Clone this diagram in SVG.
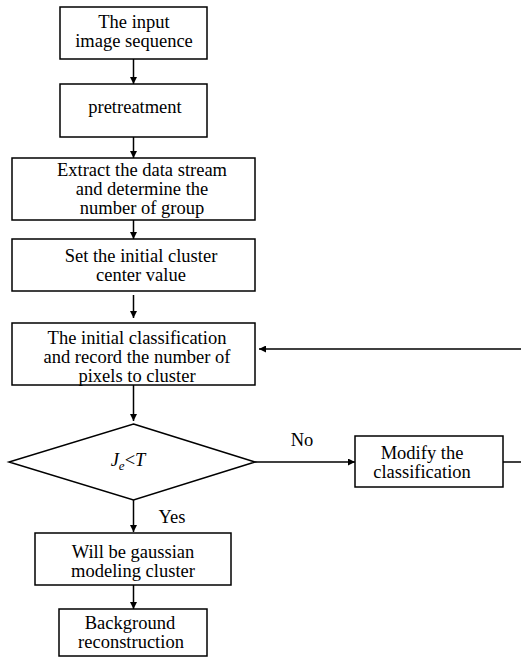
<svg xmlns="http://www.w3.org/2000/svg" width="521" height="661" viewBox="0 0 521 661">
<style>
.box{fill:#fff;stroke:#000;stroke-width:1.5}
.t{font-family:"Liberation Serif","Times New Roman",serif;font-size:18.5px;fill:#000;text-anchor:middle}
.c{stroke:#000;stroke-width:1.5;fill:none}
</style>
<defs>
<marker id="ah" viewBox="0 0 10 10" refX="10" refY="5" markerWidth="7" markerHeight="7" markerUnits="userSpaceOnUse" orient="auto">
<path d="M0,0 L10,5 L0,10 z" fill="#000"/>
</marker>
</defs>
<rect width="521" height="661" fill="#fff"/>
<g id="connectors">
<line class="c" x1="133.5" y1="59" x2="133.5" y2="84" marker-end="url(#ah)"/>
<line class="c" x1="133.5" y1="137" x2="133.5" y2="158" marker-end="url(#ah)"/>
<line class="c" x1="133.5" y1="220" x2="133.5" y2="239" marker-end="url(#ah)"/>
<line class="c" x1="133.5" y1="295" x2="133.5" y2="318" marker-end="url(#ah)"/>
<line class="c" x1="133.5" y1="385" x2="133.5" y2="421" marker-end="url(#ah)"/>
<line class="c" x1="133.5" y1="500" x2="133.5" y2="532" marker-end="url(#ah)"/>
<line class="c" x1="133.5" y1="585" x2="133.5" y2="609" marker-end="url(#ah)"/>
<line class="c" x1="255" y1="462" x2="355" y2="462" marker-end="url(#ah)"/>
<line class="c" x1="503" y1="462" x2="521" y2="462"/>
<line class="c" x1="521" y1="349" x2="259" y2="349" marker-end="url(#ah)"/>
<text class="t" x="302" y="446">No</text>
<text class="t" x="172" y="523">Yes</text>
</g>
<g id="n1"><rect class="box" x="60" y="7" width="147" height="52"/>
<text class="t" x="134" y="28">The input</text><text class="t" x="134" y="47">image sequence</text></g>
<g id="n2"><rect class="box" x="60" y="84" width="147" height="53"/>
<text class="t" x="135" y="113">pretreatment</text></g>
<g id="n3"><rect class="box" x="12" y="158" width="243" height="62"/>
<text class="t" x="142" y="176">Extract the data stream</text><text class="t" x="142" y="195">and determine the</text><text class="t" x="142" y="214">number of group</text></g>
<g id="n4"><rect class="box" x="12" y="239" width="243" height="52"/>
<text class="t" x="141" y="262">Set the initial cluster</text><text class="t" x="141" y="281">center value</text></g>
<g id="n5"><rect class="box" x="12" y="323" width="243" height="62"/>
<text class="t" x="137" y="344">The initial classification</text><text class="t" x="137" y="363">and record the number of</text><text class="t" x="137" y="382">pixels to cluster</text></g>
<g id="n6"><polygon class="box" points="133.5,424 255,462 133.5,500 9,462"/>
<text class="t" x="128" y="466"><tspan font-style="italic">J</tspan><tspan font-style="italic" font-size="13" dy="4">e</tspan><tspan dy="-4">&lt;</tspan><tspan font-style="italic">T</tspan></text></g>
<g id="n7"><rect class="box" x="355" y="436" width="148" height="51"/>
<text class="t" x="422" y="459">Modify the</text><text class="t" x="422" y="478">classification</text></g>
<g id="n8"><rect class="box" x="35" y="533" width="196" height="52"/>
<text class="t" x="133" y="558">Will be gaussian</text><text class="t" x="133" y="577">modeling cluster</text></g>
<g id="n9"><rect class="box" x="59" y="609" width="148" height="47"/>
<text class="t" x="130" y="629">Background</text><text class="t" x="131" y="648">reconstruction</text></g>
</svg>
